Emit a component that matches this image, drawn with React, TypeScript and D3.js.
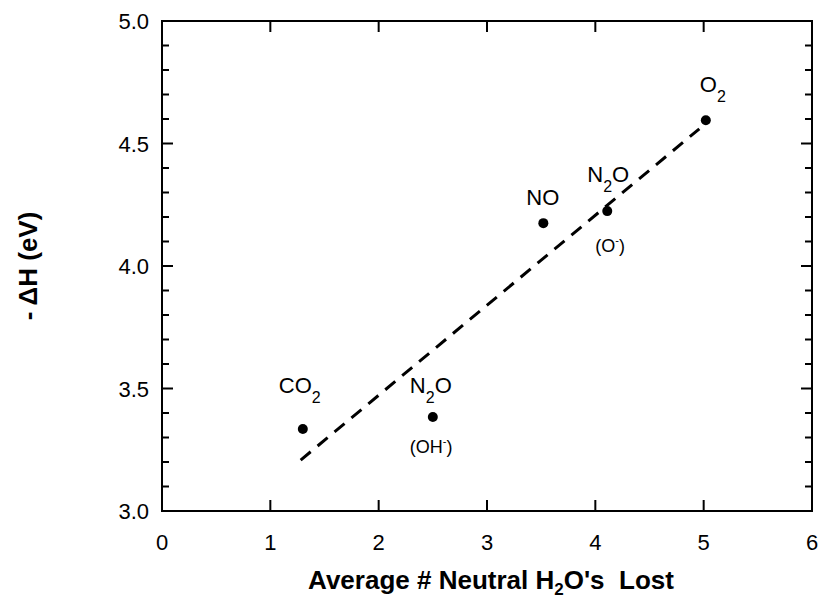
import React from "react";
import * as d3 from "d3";

const xValues = [1.3, 2.5, 3.52, 4.11, 5.02];
const yValues = [3.335, 3.384, 4.175, 4.224, 4.595];
const mainLabels = ["CO", "N", "NO", "N", "O"];
const subLabels = ["2", "2", "", "2", "2"];
const tailLabels = ["", "O", "", "O", ""];
const ionLabels = ["", "(OH", "", "(O", ""];
const fitX = [1.28, 4.96];
const fitY = [3.208, 4.56];
const xTicks = [0, 1, 2, 3, 4, 5, 6];
const yTicks = [3.0, 3.5, 4.0, 4.5, 5.0];

const W = 820, H = 601;
const L = 162, R = 812, T = 21, B = 511;
const FONT = "'Liberation Sans', Arial, Helvetica, sans-serif";

export default function App() {
  const x = d3.scaleLinear().domain([0, 6]).range([L, R]);
  const y = d3.scaleLinear().domain([3, 5]).range([B, T]);
  const minorY = d3.range(30, 51).map((v) => v / 10).filter((v) => Math.abs(v * 2 - Math.round(v * 2)) > 1e-6);
  const line = d3.line<number>().x((_, i) => x(fitX[i])).y((_, i) => y(fitY[i]));
  const offs = [
    { dx: -24, dy: -36, ix: 0, iy: 0 },
    { dx: -23, dy: -24, ix: -23, iy: 36 },
    { dx: -17, dy: -18, ix: 0, iy: 0 },
    { dx: -20, dy: -29, ix: -12, iy: 41 },
    { dx: -6, dy: -28, ix: 0, iy: 0 },
  ];
  return (
    <svg width={W} height={H} style={{ display: "block", position: "absolute", left: 0, top: 0 }} fontFamily={FONT}>
      <rect x={0} y={0} width={W} height={H} fill="#fff" />
      <rect x={L} y={T} width={R - L} height={B - T} fill="none" stroke="#000" strokeWidth={2} />
      {xTicks.slice(1, -1).map((t) => (
        <g key={"xt" + t}>
          <line x1={x(t)} x2={x(t)} y1={B} y2={B - 11} stroke="#000" strokeWidth={2} />
          <line x1={x(t)} x2={x(t)} y1={T} y2={T + 11} stroke="#000" strokeWidth={2} />
        </g>
      ))}
      {yTicks.slice(1, -1).map((t) => (
        <g key={"yt" + t}>
          <line x1={L} x2={L + 11} y1={y(t)} y2={y(t)} stroke="#000" strokeWidth={2} />
          <line x1={R} x2={R - 11} y1={y(t)} y2={y(t)} stroke="#000" strokeWidth={2} />
        </g>
      ))}
      {minorY.map((t) => (
        <g key={"ym" + t}>
          <line x1={L} x2={L + 7} y1={y(t)} y2={y(t)} stroke="#000" strokeWidth={2} />
          <line x1={R} x2={R - 7} y1={y(t)} y2={y(t)} stroke="#000" strokeWidth={2} />
        </g>
      ))}
      {xTicks.map((t) => (
        <text key={"xl" + t} x={x(t)} y={550} textAnchor="middle" fontSize={22}>{t}</text>
      ))}
      {yTicks.map((t) => (
        <text key={"yl" + t} x={149} y={y(t) + 8} textAnchor="end" fontSize={22}>{t.toFixed(1)}</text>
      ))}
      <path d={line([0, 1]) || ""} fill="none" stroke="#000" strokeWidth={3} strokeDasharray="13,9" />
      {xValues.map((v, i) => (
        <circle key={"p" + i} cx={x(v)} cy={y(yValues[i])} r={5} fill="#000" />
      ))}
      {xValues.map((v, i) => {
        const px = x(v), py = y(yValues[i]);
        const o = offs[i];
        return (
          <g key={"lab" + i}>
            <text x={px + o.dx} y={py + o.dy} fontSize={22}>
              {mainLabels[i]}
              {subLabels[i] && <tspan dy={10} fontSize={16}>{subLabels[i]}</tspan>}
              {tailLabels[i] && <tspan dy={-10}>{tailLabels[i]}</tspan>}
            </text>
            {ionLabels[i] && (
              <text x={px + o.ix} y={py + o.iy} fontSize={18}>
                {ionLabels[i]}
                <tspan dy={-8} fontSize={11}>-</tspan>
                <tspan dy={8}>)</tspan>
              </text>
            )}
          </g>
        );
      })}
      <text x={491} y={589} textAnchor="middle" fontSize={26} fontWeight="bold" style={{ whiteSpace: "pre" }}>
        Average # Neutral H<tspan dy={6} fontSize={17}>2</tspan><tspan dy={-6}>{"O's  Lost"}</tspan>
      </text>
      <text transform={`translate(37,266) rotate(-90)`} textAnchor="middle" fontSize={26} fontWeight="bold">
        - ΔH (eV)
      </text>
    </svg>
  );
}
